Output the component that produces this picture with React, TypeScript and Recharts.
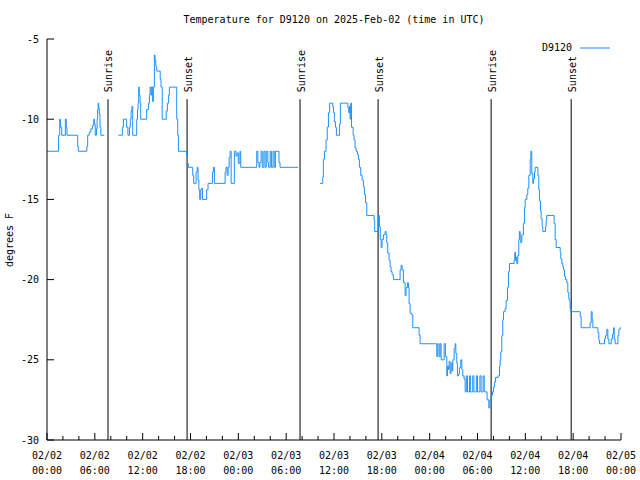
import React from 'react';
import { LineChart, Line, XAxis, YAxis, ReferenceLine } from 'recharts';

const FONT = '"DejaVu Sans Mono", monospace';
const SERIES_COLOR = '#1e90ff';

// hours since 2025-02-02 00:00 UTC / reading in degrees F
const earlyHours = [0, 1.45, 1.6, 1.68, 1.85, 2.3, 2.42, 2.5, 3.85, 3.93, 5.0, 5.1, 5.3, 5.5, 5.7, 5.87, 5.95, 6.05, 6.2, 6.28, 6.35, 6.42, 6.48, 6.56, 6.65, 6.75, 7.2];
const earlyTemps = [-12, -11, -10, -10.5, -11, -10, -10.5, -11, -11.7, -12, -11.7, -11, -10.8, -10.6, -10.4, -10, -10.3, -11, -10.6, -10, -9.4, -9, -9.3, -9.7, -10.5, -11, -11];

const day1Hours = [
  8.95, 9.45, 9.58, 9.99, 10.15, 10.35, 10.45, 10.55, 10.65, 10.75, 11.25, 11.35, 11.42, 11.5, 11.58, 11.67, 11.75,
  12.5, 12.72, 12.85, 12.93, 13.05, 13.13, 13.25, 13.34, 13.47, 13.55, 13.65, 13.76, 14.2, 14.3, 14.45, 14.95, 15.1,
  15.25, 15.35, 16.27, 16.4, 16.48, 17.52, 17.61, 17.73, 18.28, 18.4, 18.7, 18.85, 18.95, 19.05, 19.15, 19.28, 19.41,
  19.5, 20.03, 20.2, 20.75, 20.87, 21.0, 22.34, 22.45, 22.6, 22.72, 22.85, 22.97, 23.1, 23.5, 23.7, 23.85, 24.0, 24.2,
  24.3, 26.31, 26.45, 26.6, 26.7, 26.85, 27.0, 27.2, 27.35, 27.5, 27.7, 27.8, 28.0, 28.15, 28.35, 28.5, 28.65, 29.1,
  29.23, 31.5,
];
const day1Temps = [
  -11, -10.5, -10, -10.5, -11, -10.5, -10, -9.5, -9.2, -11, -10, -9.4, -9, -8, -8.5, -9, -10,
  -9.4, -9, -8.5, -8, -8.5, -8, -8.9, -8, -6, -6.3, -6.7, -7, -7.5, -8, -10, -9.5, -9,
  -8.5, -8, -10, -11, -12, -12.3, -12.75, -13, -13.5, -14, -13.3, -13, -13.8, -14.4, -15, -14.4, -14.3,
  -15, -14.4, -14, -13.3, -13, -14, -13.3, -13, -13.5, -13, -12.4, -12, -14, -12, -12.3, -12.1, -12.75, -12,
  -13, -12, -12.7, -13, -12.7, -12, -13, -12, -13, -12, -12.7, -13, -12, -13, -12, -13, -12, -12.7,
  -13, -13,
];

const day2Hours = [
  34.25, 34.59, 34.67, 34.8, 35.0, 35.15, 35.3, 35.45, 35.84, 35.93, 36.05, 36.18, 36.3, 36.7, 36.8, 37.75, 37.85,
  37.94, 38.02, 38.1, 38.2, 38.4, 38.52, 38.64, 38.77, 38.94, 39.06, 39.19, 39.35, 39.52, 39.69, 39.81, 39.95, 40.11,
  41.03, 41.1, 41.57, 41.7, 41.8, 41.91, 42.03, 42.2, 42.41, 42.53, 42.62, 42.74, 42.91, 43.04, 43.16, 43.29, 43.45,
  44.29, 44.42, 44.54, 44.71, 44.92, 45.04, 45.21, 45.34, 45.42, 45.55, 45.75, 45.88, 46.68, 46.8, 48.89, 49.02,
  49.18, 49.31, 49.44, 49.81, 49.98, 50.15, 50.23, 50.36, 50.44, 50.57, 50.69, 50.82, 50.9, 51.07, 51.19, 51.28,
  51.4, 51.48, 51.61, 51.73, 51.9, 52.03, 52.15, 52.32, 52.45, 52.6, 52.75, 53.0, 53.1, 53.4, 53.55, 53.85, 54.0,
  54.3, 54.45, 54.7, 54.85, 55.2, 55.42, 55.55, 55.7, 55.88, 56.0, 56.13, 56.25, 56.6, 56.76,
];
const day2Temps = [
  -14, -13.6, -12.5, -12, -11.3, -10.5, -9.6, -9, -9.2, -9.6, -10.15, -10.5, -11, -10.3, -9, -9.3, -9.6,
  -9.2, -10, -9, -10.5, -11, -11.3, -11.8, -12, -12.2, -12.5, -13, -13.5, -13.8, -14.2, -14.7, -15.2, -16,
  -16.3, -17, -16, -16.7, -17.5, -18, -17.5, -17.2, -17, -17.2, -17.7, -18.35, -18.8, -19.2, -19.5, -19.7, -20,
  -19.4, -19.1, -19.4, -20.2, -21, -20.5, -20.2, -20.5, -21.5, -22.1, -22.2, -23, -23.45, -24, -24.8, -24,
  -24.8, -24, -25, -24, -24.8, -26, -25.4, -25.6, -25.1, -25.85, -25.2, -25.7, -25, -24.3, -24, -24.6,
  -25.2, -26, -25.9, -25.5, -25, -25.6, -26, -26.2, -27, -26, -27, -26, -27, -26, -27, -26, -27,
  -26, -27, -26, -27, -27.5, -28, -27.5, -27.2, -27, -26.7, -26.4, -26.1, -26, -25.4,
];

const day3Hours = [
  56.84, 56.92, 57.05, 57.17, 57.26, 57.46, 57.59, 57.76, 57.88, 58.01, 58.59, 58.68, 58.76, 58.85, 58.93, 59.05,
  59.18, 59.26, 59.35, 59.43, 59.56, 59.76, 59.89, 59.98, 60.19, 60.31, 60.44, 60.61, 60.69, 60.81, 60.94, 61.02,
  61.15, 61.23, 61.57, 61.69, 61.77, 61.9, 61.98, 62.11, 62.19, 62.53, 62.61, 62.69, 63.61, 63.74, 63.87, 64.37,
  64.45, 64.58, 64.7, 64.79, 64.91, 65.04, 65.2, 65.33, 65.45, 65.54, 65.62, 65.71, 66.88, 67.0, 68.13, 68.26,
  68.38, 68.47, 69.1, 69.22, 69.31, 69.93, 70.06, 70.22, 70.35, 70.48, 70.77, 70.94, 71.06, 71.15, 71.27, 71.61,
  71.73, 71.9, 72,
];
const day3Temps = [
  -25, -24.5, -23.5, -22.5, -22, -21.8, -21.3, -20.5, -19.5, -19, -18.8, -18.3, -18.8, -18.6, -19, -18.5,
  -17.5, -17, -17.3, -17.7, -17.2, -16.5, -15.5, -15, -14.7, -14.3, -13.5, -12.5, -12, -13.4, -14, -13.7,
  -13.3, -13, -13.5, -14.4, -15.1, -15.7, -16.2, -16.7, -17, -16.7, -16.3, -16, -16.5, -17.5, -18, -18.3,
  -18.7, -19, -19.2, -19.4, -19.8, -20, -20.2, -20.8, -21.2, -21.3, -21.8, -22, -22.3, -23, -22.7, -22,
  -22.5, -23, -23.3, -23.8, -24, -23.7, -23.5, -23.1, -23.7, -24, -23.7, -23.4, -23, -23.7, -24, -23.5,
  -23.1, -23, -23,
];

const sunHours = [7.65, 17.57, 31.74, 41.53, 55.71, 65.75];
const sunLabels = ['Sunrise', 'Sunset', 'Sunrise', 'Sunset', 'Sunrise', 'Sunset'];
const sunLineTop = -8.75;

const xTicks = Array.from({ length: 37 }, (_, i) => i * 2);
const yTicks = [-30, -25, -20, -15, -10, -5];

type Row = { hour: number; temp: number | null };
const rows: Row[] = [];
const addSegment = (hs: number[], ts: number[]) => hs.forEach((h, i) => rows.push({ hour: h, temp: ts[i] }));
addSegment(earlyHours, earlyTemps);
rows.push({ hour: 8, temp: null });
addSegment(day1Hours, day1Temps);
rows.push({ hour: 33, temp: null });
addSegment(day2Hours, day2Temps);
addSegment(day3Hours, day3Temps);

const pad = (n: number) => String(n).padStart(2, '0');

const BottomTick = (props: any) => {
  const { x, y, payload } = props;
  const v = payload.value as number;
  const major = v % 6 === 0;
  const day = 2 + Math.floor(v / 24);
  const hh = v % 24;
  return (
    <g>
      <line x1={x} x2={x} y1={y} y2={y - (major ? 7 : 4)} stroke="#000" />
      {major && (
        <text x={x} y={y + 19} textAnchor="middle" fontFamily={FONT} fontSize={10} fill="#000">
          {`02/${pad(day)}`}
        </text>
      )}
      {major && (
        <text x={x} y={y + 34} textAnchor="middle" fontFamily={FONT} fontSize={10} fill="#000">
          {`${pad(hh)}:00`}
        </text>
      )}
    </g>
  );
};

const TopTick = (props: any) => {
  const { x, y, payload } = props;
  const major = (payload.value as number) % 6 === 0;
  return <line x1={x} x2={x} y1={y} y2={y + (major ? 7 : 4)} stroke="#000" />;
};

const LeftTick = (props: any) => {
  const { x, y, payload } = props;
  return (
    <g>
      <line x1={x} x2={x + 7} y1={y} y2={y} stroke="#000" />
      <text x={x - 8} y={y} dy="0.35em" textAnchor="end" fontFamily={FONT} fontSize={10} fill="#000">
        {payload.value}
      </text>
    </g>
  );
};

const RightTick = (props: any) => {
  const { x, y } = props;
  return <line x1={x} x2={x - 7} y1={y} y2={y} stroke="#000" />;
};

const SunLabel = (props: any) => {
  const { viewBox, text } = props;
  if (!viewBox) return null;
  const x = viewBox.x + 4.5;
  const y = viewBox.y - 7;
  return (
    <text x={x} y={y} transform={`rotate(-90 ${x} ${y})`} textAnchor="start" fontFamily={FONT} fontSize={10} fill="#000">
      {text}
    </text>
  );
};

const App: React.FC = () => {
  return (
    <div style={{ position: 'absolute', left: 0, top: 0, width: 640, height: 480, background: '#fff' }}>
      <div
        style={{
          position: 'absolute', left: 47, top: 13, width: 574, textAlign: 'center',
          fontFamily: FONT, fontSize: 10, lineHeight: '14px',
        }}
      >
        Temperature for D9120 on 2025-Feb-02 (time in UTC)
      </div>
      <div
        style={{
          position: 'absolute', left: 10, top: 240, transform: 'translate(-50%, -50%) rotate(-90deg)',
          fontFamily: FONT, fontSize: 10, whiteSpace: 'nowrap', lineHeight: '14px',
        }}
      >
        degrees F
      </div>
      <LineChart width={640} height={480} data={rows} margin={{ top: 39, right: 19, bottom: 0, left: 0 }}>
        <XAxis
          dataKey="hour"
          type="number"
          domain={[0, 72]}
          ticks={xTicks}
          interval={0}
          height={40}
          tickSize={0}
          tickMargin={0}
          tickLine={false}
          axisLine={{ stroke: '#000' }}
          tick={<BottomTick />}
        />
        <XAxis
          xAxisId="top"
          orientation="top"
          dataKey="hour"
          type="number"
          domain={[0, 72]}
          ticks={xTicks}
          interval={0}
          height={0}
          tickSize={0}
          tickMargin={0}
          tickLine={false}
          axisLine={{ stroke: '#000' }}
          tick={<TopTick />}
        />
        <YAxis
          type="number"
          domain={[-30, -5]}
          ticks={yTicks}
          interval={0}
          width={47}
          tickSize={0}
          tickMargin={0}
          tickLine={false}
          axisLine={{ stroke: '#000' }}
          tick={<LeftTick />}
        />
        <YAxis
          yAxisId="right"
          orientation="right"
          type="number"
          domain={[-30, -5]}
          ticks={yTicks}
          interval={0}
          width={0}
          tickSize={0}
          tickMargin={0}
          tickLine={false}
          axisLine={{ stroke: '#000' }}
          tick={<RightTick />}
        />
        {sunHours.map((h, i) => (
          <ReferenceLine
            key={i}
            segment={[{ x: h, y: sunLineTop }, { x: h, y: -30 }]}
            stroke="#000"
            strokeWidth={1}
            ifOverflow="visible"
            label={<SunLabel text={sunLabels[i]} />}
          />
        ))}
        <Line
          type="stepAfter"
          dataKey="temp"
          stroke={SERIES_COLOR}
          strokeWidth={1}
          dot={false}
          connectNulls={false}
          isAnimationActive={false}
          name="D9120"
        />
      </LineChart>
      <div style={{ position: 'absolute', left: 500, top: 41, width: 112, height: 14, fontFamily: FONT, fontSize: 10 }}>
        <span style={{ position: 'absolute', right: 40, top: 0, lineHeight: '14px' }}>D9120</span>
        <svg style={{ position: 'absolute', left: 80, top: 0 }} width={30} height={14}>
          <line x1={0} x2={30} y1={7} y2={7} stroke={SERIES_COLOR} />
        </svg>
      </div>
    </div>
  );
};

export default App;
